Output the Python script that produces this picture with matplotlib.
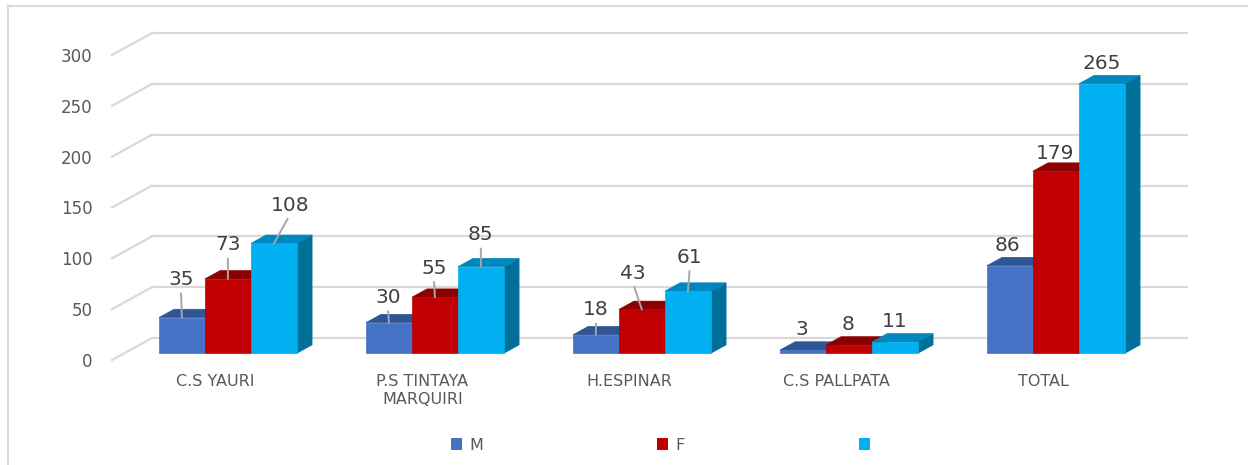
import numpy as np
import matplotlib.pyplot as plt
from matplotlib.patches import Polygon, Patch
from matplotlib.lines import Line2D

# datos por establecimiento
categories = ['C.S YAURI', 'P.S TINTAYA\nMARQUIRI', 'H.ESPINAR', 'C.S PALLPATA', 'TOTAL']
series_names = ['M', 'F', '']
m_vals = [35, 30, 18, 3, 86]
f_vals = [73, 55, 43, 8, 179]
t_vals = [108, 85, 61, 11, 265]
y_ticks = [0, 50, 100, 150, 200, 250, 300]

front_colors = ['#4472C4', '#C00000', '#00B0F0']
top_colors = ['#2F5597', '#8B0000', '#0087BF']
side_colors = ['#2F528F', '#7A0000', '#006F9A']

# desplazamiento de las etiquetas (px) respecto a la cara superior
label_offsets = [
    [(-1, 38), (-1, 25), (0, 25), (-1, 21), (-2, 20)],
    [(0, 34), (-1, 29), (-9, 36), (-1, 21), (-1, 18)],
    [(16, 38), (0, 32), (2, 34), (0, 21), (0, 20)],
]

W, H = 1248, 465
fig = plt.figure(figsize=(W / 100, H / 100), dpi=100)
fig.patch.set_facecolor('white')

# recuadro gris del grafico (borde superior e izquierdo)
fig.add_artist(Line2D([8 / W, 1], [1 - 6 / H, 1 - 6 / H], transform=fig.transFigure,
                      color='#D9D9D9', lw=1.5))
fig.add_artist(Line2D([8 / W, 8 / W], [0, 1 - 6 / H], transform=fig.transFigure,
                      color='#D9D9D9', lw=1.5))

ax = fig.add_axes([112 / W, (H - 360) / H, 1035 / W, 305 / H])
ax.set_xlim(-0.5, 4.5)
ax.set_ylim(0, 300)
for s in ax.spines.values():
    s.set_visible(False)
ax.set_facecolor('none')

# profundidad de la vista 3D (en unidades de datos)
DX, DY = 0.193, 21.6
f0, fb = 0.31, 0.38
bx, by = f0 * DX, f0 * DY
ddx, ddy = fb * DX, fb * DY

# cuadricula: pared lateral y pared del fondo
grid_c = '#D9D9D9'
for v in y_ticks:
    ax.plot([-0.5, -0.5 + DX], [v, v + DY], color=grid_c, lw=1.6, clip_on=False, zorder=0.5)
    ax.plot([-0.5 + DX, 4.5 + DX], [v + DY, v + DY], color=grid_c, lw=1.6, clip_on=False, zorder=0.5)

x = np.arange(len(categories))
w = 2 / 9
series = [m_vals, f_vals, t_vals]
for j, vals in enumerate(series):
    left = x - 1 / 3 + j * w + bx
    z = 3 + 2 * j
    ax.bar(left, vals, width=w, bottom=by, align='edge', color=front_colors[j],
           edgecolor=front_colors[j], lw=0.5, zorder=z + 0.5, clip_on=False)
    for L, v in zip(left, vals):
        top = [(L, v + by), (L + w, v + by), (L + w + ddx, v + by + ddy), (L + ddx, v + by + ddy)]
        side = [(L + w, by), (L + w, v + by), (L + w + ddx, v + by + ddy), (L + w + ddx, by + ddy)]
        ax.add_patch(Polygon(side, closed=True, facecolor=side_colors[j], edgecolor=side_colors[j],
                             lw=0.5, zorder=z, clip_on=False))
        ax.add_patch(Polygon(top, closed=True, facecolor=top_colors[j], edgecolor=top_colors[j],
                             lw=0.5, zorder=z, clip_on=False))

# etiquetas de valores con lineas guia
for j, vals in enumerate(series):
    left = x - 1 / 3 + j * w + bx
    for i, (L, v) in enumerate(zip(left, vals)):
        dx, dy = label_offsets[j][i]
        props = None
        if dy >= 24:
            props = dict(arrowstyle='-', color='#A6A6A6', lw=1.4, shrinkA=1, shrinkB=0,
                         relpos=(0.5, 0))
        ax.annotate(str(v), xy=(L + w / 2, v + by), xytext=(dx * 0.72, dy * 0.72),
                    textcoords='offset points', ha='center', va='center',
                    fontsize=14.5, color='#404040', arrowprops=props, zorder=20)

ax.set_yticks(y_ticks)
ax.set_xticks(x, categories)
ax.tick_params(axis='y', length=0, pad=14, labelcolor='#595959', labelsize=12)
ax.tick_params(axis='x', length=0, pad=10, labelcolor='#595959', labelsize=11.5)
for lbl in ax.get_xticklabels():
    lbl.set_linespacing(1.25)

handles = [Patch(facecolor=c) for c in front_colors]
fig.legend(handles, series_names, loc='center left', bbox_to_anchor=(451 / W, 1 - 445 / H),
           ncol=3, frameon=False, fontsize=11.5, handlelength=0.7, handleheight=0.7,
           handletextpad=0.44, columnspacing=10.9, borderpad=0, borderaxespad=0,
           labelcolor='#595959')

fig.savefig('out.png', dpi=100, facecolor='white')
